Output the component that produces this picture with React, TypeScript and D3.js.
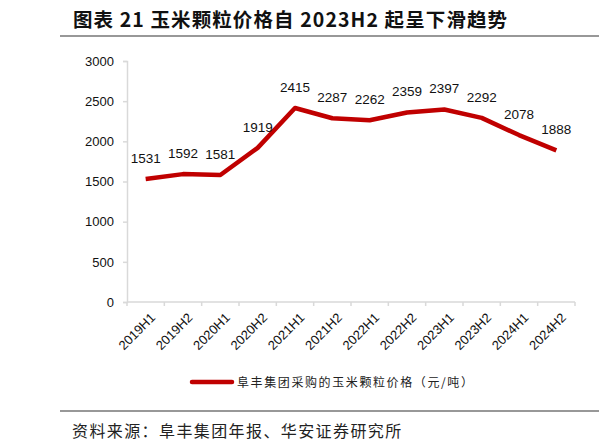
import React, { useEffect, useRef } from 'react';
import * as d3 from 'd3';

const categories = ['2019H1', '2019H2', '2020H1', '2020H2', '2021H1', '2021H2', '2022H1', '2022H2', '2023H1', '2023H2', '2024H1', '2024H2'];
const cornPrice = [1531, 1592, 1581, 1919, 2415, 2287, 2262, 2359, 2397, 2292, 2078, 1888];
const yTicks = [0, 500, 1000, 1500, 2000, 2500, 3000];

const title = '图表 21 玉米颗粒价格自 2023H2 起呈下滑趋势';
const legendLabel = '阜丰集团采购的玉米颗粒价格（元/吨）';
const sourceText = '资料来源：阜丰集团年报、华安证券研究所';

const W = 599;
const H = 448;
const RED = '#c00000';
const AXIS = '#d9d9d9';
const NUM_FONT = '"Liberation Sans", Arial, sans-serif';
const CJK_FONT = '"Noto Sans CJK SC", "Noto Sans", sans-serif';

const App: React.FC = () => {
  const svgRef = useRef<SVGSVGElement>(null);

  useEffect(() => {
    if (!svgRef.current) return;
    const svg = d3.select(svgRef.current);
    svg.selectAll('*').remove();

    const left = 127, right = 575, top = 61, bottom = 302;

    const x = d3.scaleBand().domain(categories).range([left, right]);
    const y = d3.scaleLinear().domain([0, 3000]).range([bottom, top]);

    // title + rules
    svg.append('text')
      .attr('x', 73).attr('y', 27)
      .attr('font-family', CJK_FONT).attr('font-weight', 'bold').attr('font-size', 19.5)
      .attr('letter-spacing', 1.1)
      .attr('fill', '#111')
      .text(title);
    svg.append('line').attr('x1', 60).attr('x2', W).attr('y1', 36).attr('y2', 36)
      .attr('stroke', '#333').attr('stroke-width', 1.2);
    svg.append('line').attr('x1', 60).attr('x2', W).attr('y1', 411).attr('y2', 411)
      .attr('stroke', '#333').attr('stroke-width', 1.2);
    svg.append('text')
      .attr('x', 72).attr('y', 437)
      .attr('font-family', CJK_FONT).attr('font-size', 16).attr('letter-spacing', 1.4)
      .attr('fill', '#222')
      .text(sourceText);

    // y axis
    const gy = svg.append('g').attr('transform', `translate(${left},0)`)
      .call(d3.axisLeft(y).tickValues(yTicks).tickSize(4).tickPadding(9).tickFormat(d3.format('d')));
    gy.select('.domain').attr('stroke', AXIS).attr('stroke-width', 1.5);
    gy.selectAll('.tick line').attr('stroke', AXIS).attr('stroke-width', 1.5);
    gy.selectAll('.tick text').attr('font-family', NUM_FONT).attr('font-size', 13).attr('fill', '#111');

    // x axis
    const gx = svg.append('g').attr('transform', `translate(0,${bottom})`);
    gx.append('line').attr('x1', left).attr('x2', right).attr('y1', 0).attr('y2', 0)
      .attr('stroke', AXIS).attr('stroke-width', 1.5);
    const edges = d3.range(categories.length + 1).map(i => left + i * x.step());
    gx.selectAll('line.tk').data(edges).enter().append('line').attr('class', 'tk')
      .attr('x1', d => d).attr('x2', d => d).attr('y1', 0).attr('y2', 4)
      .attr('stroke', AXIS).attr('stroke-width', 1.5);
    gx.selectAll('text').data(categories).enter().append('text')
      .attr('transform', d => `translate(${(x(d) as number) + x.bandwidth() / 2 + 4},${10}) rotate(-45)`)
      .attr('text-anchor', 'end').attr('dy', '0.7em')
      .attr('font-family', NUM_FONT).attr('font-size', 13).attr('fill', '#111')
      .text(d => d);

    // line
    const cx = (d: string) => (x(d) as number) + x.bandwidth() / 2;
    const line = d3.line<number>()
      .x((_, i) => cx(categories[i]))
      .y(d => y(d));
    svg.append('path').datum(cornPrice)
      .attr('d', line)
      .attr('fill', 'none').attr('stroke', RED).attr('stroke-width', 4.5)
      .attr('stroke-linejoin', 'round');

    // data labels
    svg.selectAll('text.lbl').data(cornPrice).enter().append('text').attr('class', 'lbl')
      .attr('x', (_, i) => cx(categories[i]))
      .attr('y', d => y(d) - 16)
      .attr('text-anchor', 'middle')
      .attr('font-family', NUM_FONT).attr('font-size', 13.5).attr('fill', '#111')
      .text(d => d);

    // legend
    svg.append('line').attr('x1', 192).attr('x2', 232).attr('y1', 382).attr('y2', 382)
      .attr('stroke', RED).attr('stroke-width', 4.5).attr('stroke-linecap', 'round');
    svg.append('text')
      .attr('x', 237).attr('y', 386.5)
      .attr('font-family', CJK_FONT).attr('font-size', 12).attr('letter-spacing', 1.6)
      .attr('fill', '#222')
      .text(legendLabel);
  }, []);

  return (
    <div style={{ position: 'fixed', left: 0, top: 0, width: W, height: H, background: '#fff' }}>
      <svg ref={svgRef} width={W} height={H}></svg>
    </div>
  );
};

export default App;
